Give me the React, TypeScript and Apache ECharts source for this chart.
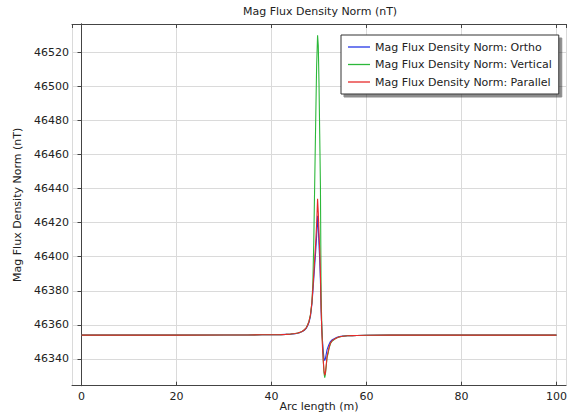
import React, { useEffect, useRef } from "react";
import * as echarts from "echarts";

const FONT = "DejaVu Sans";

const chartTitle = "Mag Flux Density Norm (nT)";
const xAxisTitle = "Arc length (m)";
const yAxisTitle = "Mag Flux Density Norm (nT)";
const seriesNames = [
  "Mag Flux Density Norm: Ortho",
  "Mag Flux Density Norm: Vertical",
  "Mag Flux Density Norm: Parallel",
];

const arcLength = [
  0, 10, 20, 30, 35, 38, 40,
  42, 43, 44, 45, 45.5,
  46, 46.5, 47, 47.3, 47.6,
  47.9, 48.2, 48.5, 48.7, 48.9,
  49.1, 49.3, 49.5, 49.7, 49.85,
  50.0, 50.15, 50.3, 50.45, 50.6,
  50.75, 50.9, 51.05, 51.2, 51.35,
  51.5, 51.7, 51.9, 52.1, 52.4,
  52.7, 53.0, 53.4, 53.8, 54.3,
  55, 56, 57, 58, 60,
  65, 70, 80, 90, 100,
];

const ortho = [
  46354, 46354, 46354, 46354.1, 46354.1, 46354.2, 46354.2,
  46354.3, 46354.4, 46354.5, 46354.8, 46355.1,
  46355.5, 46356.1, 46357, 46357.9, 46359.4,
  46361.5, 46365, 46372, 46379, 46387,
  46395, 46403, 46412, 46424, 46417,
  46407, 46398, 46386, 46368, 46357,
  46350, 46344.5, 46340.5, 46339, 46340.2,
  46342.5, 46345.5, 46347, 46348.5, 46350.2,
  46351.1, 46351.6, 46352.2, 46352.7, 46353.1,
  46353.4, 46353.6, 46353.7, 46353.8, 46353.9,
  46354, 46354, 46354, 46354, 46354,
];

const vertical = [
  46354, 46354, 46354, 46354.1, 46354.1, 46354.2, 46354.2,
  46354.3, 46354.4, 46354.6, 46354.9, 46355.2,
  46355.6, 46356.3, 46357.3, 46358.3, 46359.9,
  46362.2, 46366, 46373, 46384, 46409,
  46444, 46479, 46512, 46530, 46524,
  46502, 46472, 46442, 46376, 46359,
  46348, 46339, 46332, 46329, 46331,
  46335, 46341, 46343, 46346, 46349,
  46350.3, 46351, 46351.8, 46352.4, 46352.9,
  46353.3, 46353.6, 46353.7, 46353.8, 46353.9,
  46354, 46354, 46354, 46354, 46354,
];

const parallel = [
  46354, 46354, 46354, 46354.1, 46354.1, 46354.2, 46354.2,
  46354.3, 46354.4, 46354.6, 46354.9, 46355.2,
  46355.6, 46356.3, 46357.3, 46358.3, 46359.8,
  46362, 46365.8, 46373, 46381, 46390,
  46399, 46408, 46419, 46434, 46426,
  46414, 46404, 46390, 46369, 46356,
  46346, 46339, 46333, 46330.5, 46332,
  46336, 46341.5, 46344, 46346.5, 46349.2,
  46350.5, 46351.2, 46351.9, 46352.5, 46353,
  46353.3, 46353.6, 46353.7, 46353.8, 46353.9,
  46354, 46354, 46354, 46354, 46354,
];

const seriesValues = [ortho, vertical, parallel];
const seriesColors = ["#2536e6", "#2cb83a", "#e62a2a"];

const X_MIN = -2;
const X_MAX = 102;
const Y_MIN = 46324.3;
const Y_MAX = 46536.6;

const frameColor = "#444";
const textColor = "#222";

export default function App() {
  const ref = useRef<HTMLDivElement>(null);

  useEffect(() => {
    if (!ref.current) return;
    const chart = echarts.init(ref.current, undefined, { renderer: "svg" });

    const series = seriesNames.map((name, s) => ({
      name,
      type: "line",
      xAxisIndex: 0,
      yAxisIndex: 0,
      data: arcLength.map((x, i) => [x, seriesValues[s][i]]),
      showSymbol: false,
      symbol: "none",
      lineStyle: { width: 1.1, color: seriesColors[s] },
      itemStyle: { color: seriesColors[s] },
      emphasis: { disabled: true },
    }));

    chart.setOption({
      animation: false,
      title: {
        text: chartTitle,
        left: 243,
        top: 6,
        padding: 0,
        textStyle: { fontSize: 11, fontWeight: "normal", color: textColor, fontFamily: FONT },
      },
      legend: {
        orient: "vertical",
        left: 341,
        top: 35,
        padding: [5, 7, 5, 7],
        itemGap: 3.5,
        itemWidth: 22,
        itemHeight: 1.3,
        icon: "rect",
        backgroundColor: "#fff",
        borderColor: "#333",
        borderWidth: 1,
        borderRadius: 0,
        shadowColor: "rgba(0,0,0,0.45)",
        shadowBlur: 1,
        shadowOffsetX: 3,
        shadowOffsetY: 3,
        textStyle: { fontSize: 11, color: textColor, fontFamily: FONT, lineHeight: 14 },
        data: seriesNames,
      },
      grid: {
        left: 72,
        right: 3,
        top: 24,
        bottom: 26.3,
        containLabel: false,
        outerBoundsMode: "none",
      },
      xAxis: [
        {
          type: "value",
          position: "bottom",
          min: X_MIN,
          max: X_MAX,
          name: xAxisTitle,
          nameLocation: "middle",
          nameGap: 15,
          nameMoveOverlap: false,
          nameTextStyle: { fontSize: 11, color: textColor, fontFamily: FONT },
          axisLine: { show: true, lineStyle: { color: frameColor, width: 1 } },
          axisTick: { show: true, inside: true, length: 4, lineStyle: { color: frameColor } },
          axisLabel: {
            fontSize: 11,
            color: textColor,
            fontFamily: FONT,
            margin: 5,
            showMinLabel: false,
            showMaxLabel: false,
          },
          splitLine: { show: true, lineStyle: { color: "#dadada", width: 1 } },
        },
        {
          type: "value",
          position: "top",
          min: X_MIN,
          max: X_MAX,
          axisLine: { show: true, lineStyle: { color: frameColor, width: 1 } },
          axisTick: { show: true, inside: true, length: 4, lineStyle: { color: frameColor } },
          axisLabel: { show: false },
          splitLine: { show: false },
        },
      ],
      yAxis: [
        {
          type: "value",
          position: "left",
          min: Y_MIN,
          max: Y_MAX,
          splitNumber: 10,
          name: yAxisTitle,
          nameLocation: "middle",
          nameGap: 40,
          nameTextStyle: { fontSize: 11, color: textColor, fontFamily: FONT },
          axisLine: { show: true, lineStyle: { color: frameColor, width: 1 } },
          axisTick: { show: true, inside: false, length: 2.5, lineStyle: { color: frameColor } },
          axisLabel: {
            fontSize: 11,
            color: textColor,
            fontFamily: FONT,
            margin: 3,
            showMinLabel: false,
            showMaxLabel: false,
            formatter: (v: number) => String(Math.round(v)),
          },
          splitLine: { show: true, lineStyle: { color: "#dadada", width: 1 } },
        },
        {
          type: "value",
          position: "right",
          min: Y_MIN,
          max: Y_MAX,
          splitNumber: 10,
          axisLine: { show: true, lineStyle: { color: frameColor, width: 1 } },
          axisTick: { show: true, inside: true, length: 4, lineStyle: { color: frameColor } },
          axisLabel: { show: false },
          splitLine: { show: false },
        },
      ],
      series,
    });

    return () => chart.dispose();
  }, []);

  return (
    <div
      ref={ref}
      style={{ position: "absolute", left: 0, top: 0, width: 569, height: 412, background: "#fff" }}
    />
  );
}
